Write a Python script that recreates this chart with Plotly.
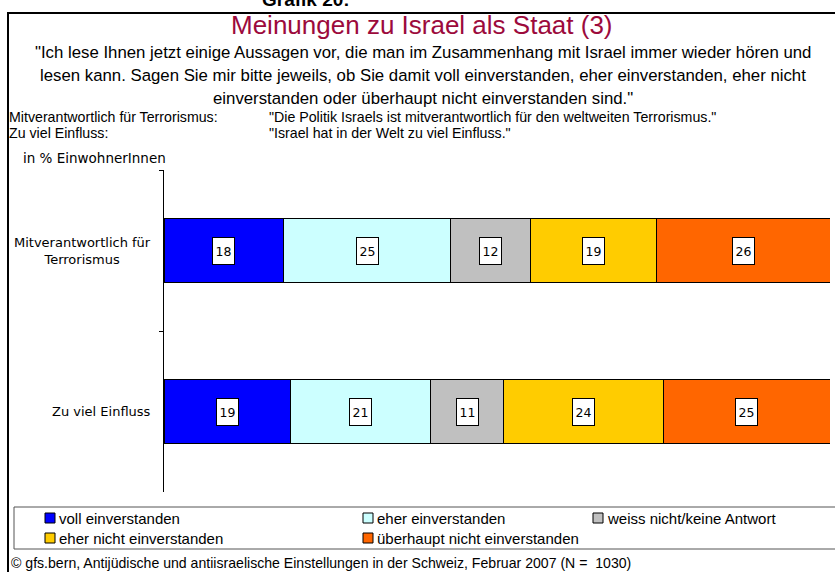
import plotly.graph_objects as go

categories = ["Mitverantwortlich für Terrorismus", "Zu viel Einfluss"]
category_labels = ["Mitverantwortlich für<br>Terrorismus", "Zu viel Einfluss"]
series_names = ["voll einverstanden", "eher einverstanden", "weiss nicht/keine Antwort",
                "eher nicht einverstanden", "überhaupt nicht einverstanden"]
values = {
    "voll einverstanden": [18, 19],
    "eher einverstanden": [25, 21],
    "weiss nicht/keine Antwort": [12, 11],
    "eher nicht einverstanden": [19, 24],
    "überhaupt nicht einverstanden": [26, 25],
}
colors = ["#0000FF", "#CCFFFF", "#C0C0C0", "#FFCC00", "#FF6600"]

W, H = 835, 572
def px(x): return x / W
def py(y): return 1 - y / H

NARROW = "Liberation Sans, Arial, sans-serif"
TAHOMA = "DejaVu Sans, Verdana, sans-serif"

fig = go.Figure()
for name, col in zip(series_names, colors):
    fig.add_trace(go.Bar(
        y=categories, x=values[name], name=name, orientation="h",
        marker=dict(color=col, line=dict(color="#000000", width=1)),
        width=0.4, hoverinfo="x+name", showlegend=False,
    ))

annotations = []
# value labels in white boxes
for ci, cat in enumerate(categories):
    cum = 0
    for name in series_names:
        v = values[name][ci]
        annotations.append(dict(
            x=cum + v / 2, y=cat, xref="x", yref="y", text=str(v), showarrow=False,
            font=dict(family=TAHOMA, size=12.5, color="#000000"),
            bgcolor="#FFFFFF", bordercolor="#000000", borderwidth=1,
            width=21, height=26, borderpad=0, xanchor="center", yanchor="middle",
        ))
        cum += v
# category labels
for cat, lab in zip(categories, category_labels):
    annotations.append(dict(
        x=px(153), y=cat, xref="paper", yref="y", text=lab, showarrow=False,
        xanchor="right", yanchor="middle", align="center",
        font=dict(family=TAHOMA, size=13, color="#000000"),
    ))

# header texts
annotations.append(dict(x=px(306), y=py(-1), xref="paper", yref="paper",
                        text="<b>Grafik 20:</b>", showarrow=False, xanchor="center", yanchor="middle",
                        borderpad=0,
                        font=dict(family="Liberation Sans, Arial, sans-serif", size=19, color="#000000")))
annotations.append(dict(x=px(422), y=py(25), xref="paper", yref="paper",
                        text="Meinungen zu Israel als Staat (3)", showarrow=False,
                        xanchor="center", yanchor="middle", borderpad=0,
                        font=dict(family=NARROW, size=26, color="#9C0A3C")))
quote_lines = [
    "\"Ich lese Ihnen jetzt einige Aussagen vor, die man im Zusammenhang mit Israel immer wieder hören und",
    "lesen kann. Sagen Sie mir bitte jeweils, ob Sie damit voll einverstanden, eher einverstanden, eher nicht",
    "einverstanden oder überhaupt nicht einverstanden sind.\"",
]
for i, line in enumerate(quote_lines):
    annotations.append(dict(x=px(423), y=py(52 + 23 * i), xref="paper", yref="paper",
                            text=line, showarrow=False, xanchor="center", yanchor="middle",
                            borderpad=0,
                            font=dict(family=NARROW, size=16.8, color="#000000")))
defs = [("Mitverantwortlich für Terrorismus:", "\"Die Politik Israels ist mitverantwortlich für den weltweiten Terrorismus.\""),
        ("Zu viel Einfluss:", "\"Israel hat in der Welt zu viel Einfluss.\"")]
for i, (a, b) in enumerate(defs):
    for xx, t in ((8, a), (268, b)):
        annotations.append(dict(x=px(xx), y=py(117 + 16 * i), xref="paper", yref="paper",
                                text=t, showarrow=False, xanchor="left", yanchor="middle",
                                borderpad=0,
                                font=dict(family=NARROW, size=14.2, color="#000000")))
annotations.append(dict(x=px(21), y=py(158), xref="paper", yref="paper",
                        text="in % EinwohnerInnen", showarrow=False, xanchor="left", yanchor="middle",
                        font=dict(family=TAHOMA, size=13.5, color="#000000")))
annotations.append(dict(x=px(9), y=py(563), xref="paper", yref="paper",
                        text="© gfs.bern, Antijüdische und antiisraelische Einstellungen in der Schweiz, Februar 2007 (N =  1030)",
                        showarrow=False, xanchor="left", yanchor="middle",
                        font=dict(family=NARROW, size=14.1, color="#000000")))

shapes = [
    dict(type="line", xref="paper", yref="paper", x0=px(7), x1=px(840), y0=py(13), y1=py(13),
         line=dict(color="#000000", width=2)),
    dict(type="line", xref="paper", yref="paper", x0=px(8), x1=px(8), y0=py(12), y1=py(580),
         line=dict(color="#000000", width=2)),
    dict(type="rect", xref="paper", yref="paper", x0=px(14), x1=px(845), y0=py(507), y1=py(549),
         line=dict(color="#555555", width=1)),
]

# legend key (three columns, two rows), built from the series names and colours
legend_cols = [45, 363, 593]
legend_rows = [518, 538]
legend_slots = [(0, 0), (1, 0), (2, 0), (0, 1), (1, 1)]
for name, col, (c, r) in zip(series_names, colors, legend_slots):
    x0 = legend_cols[c]
    yc = legend_rows[r]
    shapes.append(dict(type="rect", xref="paper", yref="paper",
                       x0=px(x0), x1=px(x0 + 10), y0=py(yc + 5), y1=py(yc - 5),
                       fillcolor=col, line=dict(color="#000000", width=1)))
    annotations.append(dict(x=px(x0 + 12), y=py(yc), xref="paper", yref="paper",
                            text=name, showarrow=False, xanchor="left", yanchor="middle",
                            font=dict(family=NARROW, size=15, color="#000000")))

fig.update_layout(
    width=W, height=H, margin=dict(l=0, r=0, t=0, b=0),
    paper_bgcolor="#FFFFFF", plot_bgcolor="#FFFFFF",
    barmode="stack", bargap=0.6, showlegend=False,
    xaxis=dict(domain=[px(164), px(830)], range=[0, 100], visible=False, fixedrange=True),
    yaxis=dict(domain=[py(492), py(170)], type="category", categoryorder="array",
               categoryarray=categories, autorange="reversed",
               showline=True, linecolor="#000000", linewidth=1,
               ticks="outside", ticklen=4, tickcolor="#000000", tickson="boundaries",
               showticklabels=False, showgrid=False, zeroline=False, fixedrange=True),
    annotations=annotations, shapes=shapes,
)

fig.write_html("out.html", config={"displayModeBar": False},
               post_script="document.body.style.margin='0';document.body.style.overflow='hidden';")
